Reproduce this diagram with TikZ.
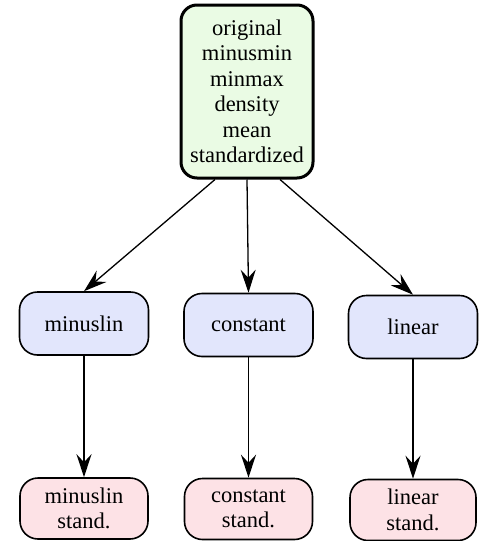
\documentclass[tikz,border=0pt]{standalone}
\usepackage{fontspec}
\setmainfont{Liberation Serif}
\usepackage{tikz}
\usetikzlibrary{arrows.meta}

\definecolor{topfill}{HTML}{EAFBE4}
\definecolor{midfill}{HTML}{E2E6FC}
\definecolor{lowfill}{HTML}{FDE2E6}

\begin{document}
\begin{tikzpicture}[line cap=round,line join=round,>={Stealth[length=23pt,width=15pt,inset=8pt]},x=1pt,y=-1pt,
  box/.style={draw=black,line width=1.6pt,rounded corners=18pt,align=center,inner sep=0pt,
    font=\fontsize{22.5}{25.5}\selectfont},
  topbox/.style={box,fill=topfill,line width=3pt,rounded corners=16pt,minimum width=132pt,minimum height=173pt},
  midbox/.style={box,fill=midfill,minimum width=129pt,minimum height=63pt},
  lowbox/.style={box,fill=lowfill,minimum width=128pt,minimum height=61pt},
  conn/.style={->,line width=1.3pt,line cap=butt}]
\useasboundingbox (0,0) rectangle (479,541);
\node[topbox] (all) at (247,91.5) {original\\minusmin\\minmax\\density\\mean\\standardized};
\node[midbox] (minuslin) at (84,323.5) {minuslin};
\node[midbox] (constant) at (248.5,325) {constant};
\node[midbox] (linear) at (413,327) {linear};
\node[lowbox] (minuslinst) at (84,508.5) {minuslin\\stand.};
\node[lowbox] (constantst) at (248.5,509) {constant\\stand.};
\node[lowbox,minimum width=126pt] (linearst) at (413,510) {linear\\stand.};
\draw[conn] ([xshift=-32pt]all.south) -- (minuslin.north);
\draw[conn] (all.south) -- (constant.north);
\draw[conn] ([xshift=33pt]all.south) -- (linear.north);
\draw[conn] (minuslin.south) -- (minuslinst.north);
\draw[conn] (constant.south) -- (constantst.north);
\draw[conn] (linear.south) -- (linearst.north);
\end{tikzpicture}
\end{document}
